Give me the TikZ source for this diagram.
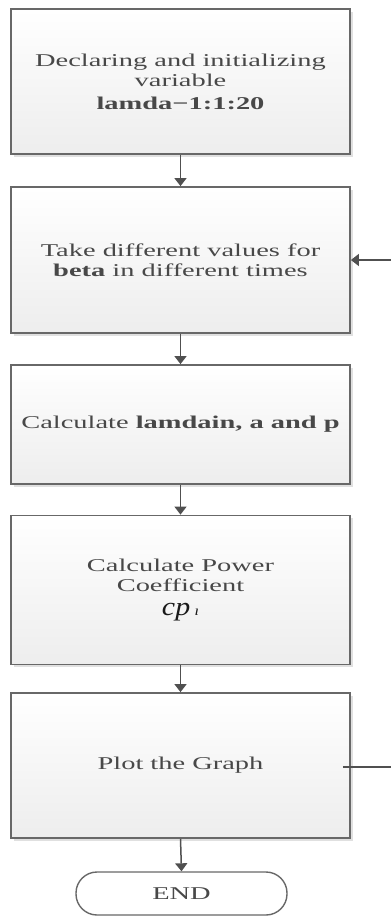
\documentclass[tikz,border=0pt]{standalone}
\usepackage{fontspec}
\setmainfont{Liberation Serif}[FakeStretch=1.58]
\newfontfamily\mathish{Liberation Serif}[FakeStretch=1.15]
\usetikzlibrary{arrows.meta,shadows,positioning}
\definecolor{txt}{HTML}{484848}
\definecolor{edge}{HTML}{686868}
\definecolor{arr}{HTML}{505050}
\tikzset{
  stepbox/.style={draw=edge, line width=1.8pt, minimum width=339pt,
    top color=white, bottom color=black!7, align=center, text=txt,
    font=\fontsize{18}{20}\selectfont, inner sep=0pt,
    drop shadow={shadow xshift=2.5pt, shadow yshift=-2.5pt, fill=black, opacity=0.12}},
  endbox/.style={draw=edge, line width=1.4pt, rounded corners=21pt,
    minimum width=211pt, minimum height=43pt, text=txt, fill=white,
    font=\fontsize{18}{20}\selectfont, inner sep=0pt},
  flow/.style={draw=arr, line width=1.5pt, -{Triangle[length=8pt,width=12pt]}},
  plain/.style={draw=arr, line width=1.5pt}
}
\begin{document}
\begin{tikzpicture}[x=1pt,y=1pt]
\useasboundingbox (0,0) rectangle (391,-916);
\node[stepbox, minimum height=145pt] (b1) at (180.5,-81.5)
  {Declaring and initializing\\variable\\[3pt]\textbf{lamda−1:1:20}};
\node[stepbox, minimum height=146pt] (b2) at (180.5,-260)
  {Take different values for\\\textbf{beta} in different times};
\node[stepbox, minimum height=119pt] (b3) at (180.5,-424.5)
  {Calculate \textbf{lamdain, a and p}};
\node[stepbox, minimum height=149pt] (b4) at (180.5,-590)
  {Calculate Power\\Coefficient\\[4pt]{\mathish\fontsize{26}{26}\selectfont\color{black!90}\textit{cp}\,{\fontsize{14}{14}\selectfont\textit{ı}}}};
\node[stepbox, minimum height=145pt] (b5) at (180.5,-765.5)
  {Plot the Graph};
\node[endbox] (e) at (181.5,-893.5) {END};
\coordinate (fin) at (391,-260);
\coordinate (fout) at (391,-767);
\draw[flow] (b1.south) -- (b2.north);
\draw[flow] (b2.south) -- (b3.north);
\draw[flow] (b3.south) -- (b4.north);
\draw[flow] (b4.south) -- (b5.north);
\draw[flow] (b5.south) -- (e.north);
\draw[flow] (fin) -- (b2.east);
\draw[plain] ([xshift=-8pt,yshift=-1.5pt]b5.east) -- (fout);
\end{tikzpicture}
\end{document}
